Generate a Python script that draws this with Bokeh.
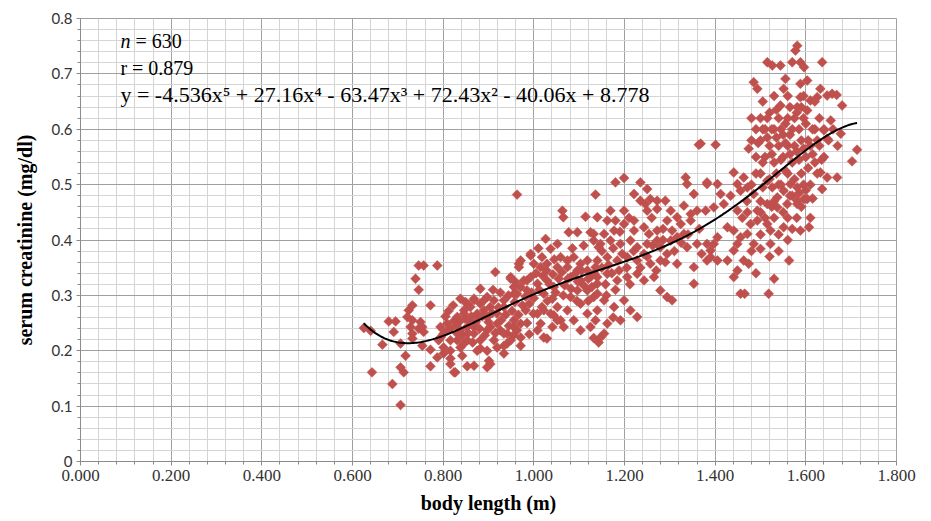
import numpy as np
from bokeh.plotting import figure
from bokeh.models import Range1d, SingleIntervalTicker, NumeralTickFormatter, Label, ColumnDataSource
from bokeh.embed import file_html
from bokeh.resources import INLINE

# ---- data ----
points = [
    (0.625,0.241),(0.640,0.236),(0.643,0.161),(0.666,0.211),(0.688,0.140),(0.706,0.102),(0.680,0.253),(0.695,0.253),
    (0.691,0.234),(0.706,0.213),(0.717,0.191),(0.706,0.170),(0.713,0.161),(0.724,0.273),(0.732,0.282),(0.728,0.243),
    (0.732,0.231),(0.732,0.222),(0.750,0.252),(0.754,0.243),(0.739,0.330),(0.746,0.310),(0.746,0.354),(0.757,0.354),
    (0.787,0.354),(0.772,0.282),(0.754,0.209),(0.772,0.202),(0.772,0.172),(0.721,0.261),(0.732,0.255),(0.746,0.240),
    (0.757,0.234),(0.787,0.188),
    (0.794,0.243),(0.809,0.249),(0.801,0.231),(0.790,0.219),(0.816,0.240),(0.824,0.254),(0.801,0.195),(0.816,0.186),
    (0.824,0.161),(0.842,0.191),(0.853,0.172),(0.838,0.294),(0.849,0.288),(0.860,0.279),(0.831,0.261),(0.846,0.267),
    (0.857,0.255),(0.838,0.237),(0.853,0.243),(0.831,0.219),(0.846,0.213),(0.875,0.267),(0.868,0.243),(0.875,0.200),
    (0.853,0.285),(0.846,0.273),(0.868,0.294),(0.882,0.285),(0.890,0.273),(0.882,0.312),(0.915,0.342),(0.897,0.297),
    (0.912,0.291),(0.934,0.291),(0.956,0.303),(0.971,0.315),(0.985,0.327),(0.949,0.333),(0.960,0.324),(0.967,0.357),
    (0.993,0.372),(1.000,0.357),(0.809,0.237),(0.794,0.224),(0.816,0.219),(0.831,0.231),(0.801,0.206),(0.816,0.200),
    (0.838,0.206),(0.853,0.219),(0.868,0.231),(0.882,0.219),(0.897,0.237),(0.904,0.243),(0.912,0.219),(0.926,0.237),
    (0.941,0.231),(0.956,0.243),(0.971,0.224),(0.919,0.206),(0.941,0.213),(0.934,0.195),(0.897,0.200),(0.816,0.176),
    (0.827,0.161),(0.897,0.170),
    (0.963,0.482),(1.136,0.482),(1.063,0.453),(1.065,0.441),(1.114,0.442),(1.077,0.414),(1.096,0.414),(1.125,0.414),
    (1.026,0.402),(1.052,0.393),(1.037,0.384),(1.132,0.399),(1.143,0.387),(0.993,0.375),(0.971,0.363),(0.967,0.351),
    (1.018,0.369),(1.029,0.357),(1.015,0.351),(1.059,0.369),(1.074,0.363),(1.088,0.369),(1.103,0.357),(1.118,0.363),
    (1.074,0.351),(1.052,0.351),(1.096,0.345),(1.118,0.345),(1.136,0.351),(0.949,0.330),(0.956,0.315),(0.978,0.327),
    (0.993,0.333),(1.008,0.321),(0.985,0.309),(0.963,0.303),(1.029,0.327),(1.044,0.315),(1.022,0.303),(1.041,0.294),
    (1.018,0.279),(1.052,0.279),(1.037,0.267),(1.008,0.267),(1.059,0.255),(1.081,0.333),(1.103,0.327),(1.125,0.333),
    (1.140,0.321),(1.096,0.309),(1.118,0.309),(1.132,0.297),(1.103,0.285),(1.081,0.297),(1.074,0.273),(1.088,0.255),
    (1.118,0.267),(1.140,0.273),(1.136,0.255),(0.868,0.291),(0.890,0.291),(0.904,0.279),(0.878,0.262),(0.897,0.261),
    (0.919,0.267),(0.934,0.279),(0.919,0.249),(0.934,0.231),(0.956,0.255),(0.971,0.249),(0.963,0.237),(0.949,0.219),
    (0.934,0.209),(0.971,0.209),(0.882,0.204),(0.901,0.182),(0.904,0.176),(0.868,0.173),(1.008,0.237),(1.029,0.222),
    (1.052,0.255),
    (0.982,0.273),(0.999,0.267),(1.022,0.273),(1.044,0.264),(1.015,0.249),(1.041,0.243),(1.066,0.243),(1.022,0.224),
    (1.103,0.237),(1.125,0.243),(1.147,0.224),(1.143,0.215),
    (1.364,0.572),(1.401,0.572),(1.180,0.504),(1.199,0.512),(1.235,0.504),(1.250,0.492),(1.221,0.483),(1.235,0.471),
    (1.257,0.474),(1.272,0.471),(1.290,0.471),(1.335,0.513),(1.338,0.501),(1.353,0.483),(1.382,0.504),(1.405,0.501),
    (1.140,0.441),(1.169,0.453),(1.199,0.453),(1.180,0.435),(1.221,0.435),(1.246,0.465),(1.250,0.453),(1.272,0.456),
    (1.302,0.453),(1.316,0.441),(1.331,0.462),(1.346,0.447),(1.360,0.453),(1.379,0.453),(1.397,0.459),(1.162,0.435),
    (1.177,0.417),(1.155,0.411),(1.199,0.429),(1.221,0.417),(1.243,0.423),(1.254,0.411),(1.272,0.417),(1.294,0.435),
    (1.305,0.417),(1.324,0.429),(1.331,0.411),(1.346,0.435),(1.132,0.411),(1.147,0.393),(1.169,0.399),(1.191,0.393),
    (1.213,0.399),(1.228,0.387),(1.250,0.393),(1.272,0.399),(1.279,0.387),(1.302,0.399),(1.316,0.405),(1.338,0.387),
    (1.360,0.393),(1.382,0.393),(1.405,0.405),(1.390,0.381),(1.140,0.363),(1.162,0.369),(1.184,0.363),(1.206,0.369),
    (1.228,0.363),(1.243,0.375),(1.257,0.357),(1.279,0.363),(1.294,0.375),(1.316,0.357),(1.353,0.351),(1.382,0.363),
    (1.140,0.333),(1.162,0.339),(1.184,0.327),(1.206,0.333),(1.228,0.339),(1.243,0.327),(1.265,0.333),(1.279,0.309),
    (1.294,0.297),(1.305,0.291),(1.353,0.321),(1.140,0.303),(1.155,0.291),(1.177,0.279),(1.199,0.291),(1.213,0.273),
    (1.228,0.261),(1.191,0.255),(1.162,0.249),(1.155,0.231),(1.132,0.223),
    (1.581,0.751),(1.577,0.742),(1.515,0.721),(1.526,0.715),(1.544,0.715),(1.570,0.721),(1.588,0.721),(1.596,0.712),
    (1.636,0.721),(1.485,0.685),(1.493,0.673),(1.555,0.691),(1.551,0.673),(1.588,0.682),(1.603,0.688),(1.632,0.673),
    (1.588,0.658),(1.610,0.652),(1.625,0.658),(1.647,0.661),(1.544,0.643),(1.581,0.640),(1.603,0.634),(1.368,0.574),
    (1.474,0.565),(1.382,0.501),(1.441,0.522),(1.463,0.513),(1.449,0.501),(1.412,0.483),(1.434,0.480),(1.419,0.465),
    (1.456,0.489),(1.471,0.495),(1.485,0.483),(1.500,0.520),(1.515,0.507),(1.526,0.495),(1.537,0.477),(1.551,0.489),
    (1.566,0.501),(1.581,0.495),(1.449,0.453),(1.471,0.450),(1.493,0.453),(1.515,0.465),(1.537,0.459),(1.559,0.465),
    (1.581,0.471),(1.603,0.474),(1.427,0.423),(1.441,0.417),(1.456,0.405),(1.478,0.429),(1.493,0.435),(1.515,0.429),
    (1.522,0.417),(1.551,0.423),(1.588,0.417),(1.607,0.423),(1.471,0.411),(1.485,0.393),(1.500,0.384),(1.522,0.393),
    (1.397,0.393),(1.390,0.369),(1.405,0.363),(1.427,0.363),(1.441,0.381),(1.449,0.393),(1.463,0.363),(1.474,0.357),
    (1.441,0.333),(1.449,0.345),(1.456,0.303),(1.465,0.303),(1.518,0.303),(1.563,0.363),
    (1.658,0.664),(1.668,0.662),(1.680,0.643),(1.677,0.592),(1.655,0.616),(1.640,0.598),(1.647,0.583),(1.713,0.563),
    (1.702,0.542),(1.632,0.522),(1.647,0.513),(1.669,0.513),(1.636,0.492),(1.596,0.474),(1.581,0.465),
    (1.490,0.600),(1.500,0.580),(1.500,0.620),(1.510,0.550),(1.510,0.600),(1.520,0.570),(1.520,0.630),(1.530,0.540),
    (1.530,0.600),(1.540,0.570),(1.540,0.620),(1.550,0.550),(1.550,0.590),(1.560,0.520),(1.560,0.570),(1.560,0.620),
    (1.570,0.540),(1.570,0.600),(1.580,0.560),(1.580,0.630),(1.590,0.520),(1.590,0.580),(1.600,0.550),(1.600,0.610),
    (1.610,0.570),(1.610,0.500),(1.620,0.540),(1.620,0.600),(1.630,0.570),(1.630,0.620),(1.520,0.510),(1.540,0.500),
    (1.570,0.480),(1.590,0.460),(1.600,0.490),(1.530,0.470),(1.550,0.450),(1.580,0.440),(1.610,0.440),(1.510,0.440),
    (1.500,0.470),(1.490,0.550),(1.480,0.580),(1.480,0.620),(1.530,0.660),(1.560,0.660),(1.590,0.640),(1.620,0.650),
    (1.640,0.600),(1.640,0.550),(1.650,0.580),(1.660,0.600),(1.670,0.570),
    (0.805,0.262),(0.812,0.272),(0.822,0.282),(0.828,0.245),(0.835,0.252),(0.842,0.228),(0.848,0.258),(0.855,0.232),
    (0.862,0.262),(0.865,0.215),(0.872,0.252),(0.880,0.240),(0.886,0.262),(0.892,0.228),(0.900,0.252),(0.908,0.268),
    (0.915,0.232),(0.922,0.278),(0.928,0.255),(0.938,0.265),(0.945,0.245),(0.952,0.272),(0.958,0.288),(0.966,0.265),
    (0.975,0.282),(0.982,0.298),(0.990,0.285),(0.995,0.305),(0.944,0.300),(0.926,0.305),(0.910,0.310),(0.955,0.228),
    (0.985,0.250),(0.990,0.230),
    (1.005,0.340),(1.012,0.310),(1.020,0.335),(1.028,0.345),(1.035,0.320),(1.042,0.338),(1.048,0.305),(1.055,0.330),
    (1.062,0.342),(1.068,0.318),(1.075,0.330),(1.082,0.312),(1.090,0.338),(1.097,0.325),(1.105,0.345),(1.110,0.318),
    (1.120,0.330),(1.128,0.315),(1.133,0.340),(1.150,0.350),(1.158,0.320),(1.165,0.355),(1.172,0.340),(1.180,0.310),
    (1.188,0.345),(1.195,0.375),(1.205,0.350),(1.212,0.320),(1.220,0.380),(1.235,0.350),(1.250,0.370),(1.262,0.390),
    (1.270,0.345),(1.285,0.400),(1.290,0.360),(1.010,0.385),(1.045,0.365),(1.085,0.385),(1.110,0.390),(1.150,0.380),
    (1.175,0.385),(1.190,0.415),(1.210,0.440),(1.260,0.440),(1.285,0.420),(1.310,0.380),(1.325,0.395),(1.340,0.410),
    (1.365,0.420),(1.370,0.375),(1.095,0.290),(1.065,0.300),(1.120,0.290),(1.160,0.300),(1.175,0.260),(1.030,0.290),
    (1.000,0.295),
    (1.495,0.575),(1.505,0.600),(1.505,0.540),(1.515,0.585),(1.515,0.620),(1.525,0.555),(1.525,0.600),(1.535,0.585),
    (1.535,0.520),(1.545,0.600),(1.545,0.545),(1.555,0.575),(1.555,0.610),(1.565,0.555),(1.565,0.590),(1.575,0.570),
    (1.575,0.620),(1.585,0.545),(1.585,0.600),(1.595,0.565),(1.595,0.620),(1.605,0.580),(1.605,0.530),(1.615,0.600),
    (1.615,0.555),(1.625,0.580),(1.625,0.520),(1.635,0.545),(1.545,0.500),(1.565,0.480),(1.575,0.510),(1.595,0.500),
    (1.505,0.495),(1.525,0.460),(1.555,0.525),(1.585,0.485),(1.615,0.475),(1.500,0.450),(1.530,0.440),(1.560,0.440),
    (1.535,0.635),(1.565,0.640),(1.595,0.660),(1.505,0.650),(1.490,0.520),(1.480,0.500),(1.470,0.470),(1.460,0.440),
    (1.540,0.410),(1.570,0.420),(1.500,0.410),(1.520,0.370),(1.540,0.380),(1.560,0.400),(1.480,0.380),(1.490,0.340),
    (1.530,0.330),
]
body_length = [pt[0] for pt in points]
creatinine = [pt[1] for pt in points]

trend_coeffs = [-4.536, 27.16, -63.47, 72.43, -40.06, 8.778]   # x^5 ... x^0

x_title = "body length (m)"
y_title = "serum creatinine (mg/dl)"
ann_n = "n"
ann_n_rest = "= 630"
ann_r = "r = 0.879"
ann_eq = "y = -4.536x\u2075 + 27.16x\u2074 - 63.47x\u00b3 + 72.43x\u00b2 - 40.06x + 8.778"

# ---- figure ----
p = figure(width=923, height=521, output_backend="svg", toolbar_location=None,
           x_range=Range1d(0, 1.8), y_range=Range1d(0, 0.8),
           min_border_left=80, min_border_right=27, min_border_top=18, min_border_bottom=60,
           background_fill_color="white", border_fill_color="white")
p.outline_line_color = "#a0a0a0"

p.xaxis.ticker = SingleIntervalTicker(interval=0.2, num_minor_ticks=5)
p.yaxis.ticker = SingleIntervalTicker(interval=0.1, num_minor_ticks=5)
p.xaxis.formatter = NumeralTickFormatter(format="0.000")
p.yaxis.formatter = NumeralTickFormatter(format="0.[0]")

for g in (p.xgrid, p.ygrid):
    g.grid_line_color = "#a0a0a0"
    g.minor_grid_line_color = "#d4d4d4"
    g.grid_line_width = 1

for ax in (p.xaxis, p.yaxis):
    ax.axis_line_color = "#8c8c8c"
    ax.major_tick_line_color = "#8c8c8c"
    ax.minor_tick_line_color = "#8c8c8c"
    ax.major_tick_out = 4
    ax.major_tick_in = 0
    ax.minor_tick_out = 3
    ax.minor_tick_in = 0
    ax.major_label_standoff = 4
    ax.axis_label_text_font = "Liberation Serif"
    ax.axis_label_text_font_style = "bold"
    ax.axis_label_text_font_size = "20px"
    ax.axis_label_text_color = "black"
    ax.major_label_text_color = "#333333"

p.xaxis.major_label_text_font = "Liberation Serif"
p.xaxis.major_label_text_font_size = "17px"
p.yaxis.major_label_text_font = "Lato"
p.yaxis.major_label_text_font_size = "15px"
p.xaxis.axis_label = x_title
p.yaxis.axis_label = y_title
p.xaxis.axis_label_standoff = 8
p.yaxis.axis_label_standoff = 13

src = ColumnDataSource(dict(x=body_length, y=creatinine))
p.scatter("x", "y", source=src, marker="square", angle=np.pi / 4, size=7,
          fill_color="#c0504d", line_color="#c0504d", line_width=0.5)

xs = np.linspace(min(body_length), max(body_length), 300)
ys = np.polyval(trend_coeffs, xs)
p.line(xs, ys, line_color="black", line_width=2)

tf = "Liberation Serif"
p.add_layout(Label(x=0.088, y=0.760, text=ann_n, text_font=tf, text_font_style="italic",
                   text_font_size="20px", text_baseline="middle", text_color="black"))
p.add_layout(Label(x=0.088, y=0.760, x_offset=15, text=ann_n_rest, text_font=tf,
                   text_font_size="20px", text_baseline="middle", text_color="black"))
p.add_layout(Label(x=0.088, y=0.7115, text=ann_r, text_font=tf,
                   text_font_size="20px", text_baseline="middle", text_color="black"))
p.add_layout(Label(x=0.088, y=0.663, text=ann_eq, text_font=tf,
                   text_font_size="22px", text_baseline="middle", text_color="black"))

open("out.html", "w").write(file_html(p, INLINE))
